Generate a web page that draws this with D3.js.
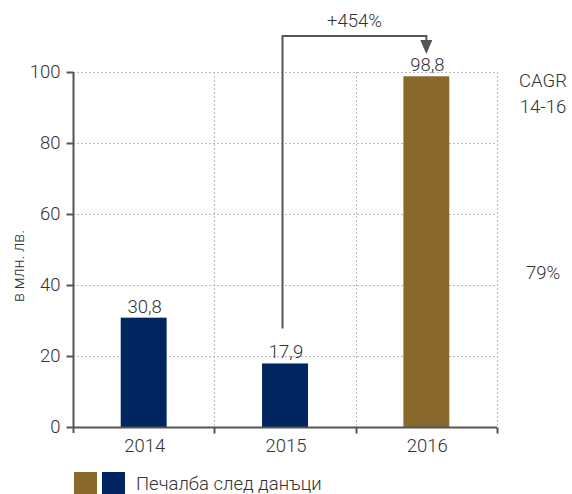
<!DOCTYPE html>
<html lang="bg">
<head>
<meta charset="utf-8">
<script src="https://cdn.jsdelivr.net/npm/d3@7"></script>
<style>
html,body{margin:0;padding:0;background:#fff;}
text{font-family:"Roboto","Liberation Sans",sans-serif;font-weight:300;fill:#333;}
</style>
</head>
<body>
<svg id="chart" width="572" height="494"></svg>
<script>
const categories = ["2014","2015","2016"];
const values = [30.8, 17.9, 98.8];
const valueLabels = ["30,8","17,9","98,8"];
const barColors = ["#002561","#002561","#8a6a2c"];
const yTicks = [0,20,40,60,80,100];
const legendColors = ["#8a6a2c","#002561"];
const legendLabel = "Печалба след данъци";
const yTitle = "в млн. лв.";
const growthLabel = "+454%";
const cagrLines = ["CAGR","14-16"];
const cagrValue = "79%";

const svg = d3.select("#chart");
const m = {left:73, right:497, top:72, bottom:427};
const x = d3.scaleBand().domain(categories).range([m.left,m.right]).paddingInner(0).paddingOuter(0);
const y = d3.scaleLinear().domain([0,100]).range([m.bottom,m.top]);
const axisColor = "#555";
const gridColor = "#bbb";
const fs = 18.5;

// horizontal grid
svg.append("g").selectAll("line").data(yTicks.filter(d=>d>0)).join("line")
  .attr("x1",m.left).attr("x2",m.right).attr("y1",d=>y(d)+0.5).attr("y2",d=>y(d)+0.5)
  .attr("stroke",gridColor).attr("stroke-dasharray","2,2");
// vertical grid at band boundaries
const bounds = categories.slice(1).map(c=>x(c)).concat([m.right]);
svg.append("g").selectAll("line").data(bounds).join("line")
  .attr("x1",d=>Math.round(d)+0.5).attr("x2",d=>Math.round(d)+0.5).attr("y1",m.top).attr("y2",m.bottom)
  .attr("stroke",gridColor).attr("stroke-dasharray","2,2");

// bars
const bw = x.bandwidth()*0.325;
svg.append("g").selectAll("rect").data(values).join("rect")
  .attr("x",(d,i)=>x(categories[i])+x.bandwidth()/2-bw/2)
  .attr("width",bw)
  .attr("y",d=>y(d)).attr("height",d=>y(0)-y(d))
  .attr("fill",(d,i)=>barColors[i]);

// value labels
svg.append("g").selectAll("text").data(values).join("text")
  .attr("x",(d,i)=>x(categories[i])+x.bandwidth()/2+1)
  .attr("y",d=>y(d)-5)
  .attr("text-anchor","middle").attr("font-size",fs)
  .text((d,i)=>valueLabels[i]);

// y axis
const yAxis = d3.axisLeft(y).tickValues(yTicks).tickSize(7).tickPadding(6).tickSizeOuter(0);
const gy = svg.append("g").attr("transform",`translate(${m.left+0.5},0)`).call(yAxis);
gy.select(".domain").remove();
gy.append("line").attr("x1",0).attr("x2",0).attr("y1",m.top).attr("y2",m.bottom+6).attr("stroke",axisColor).attr("stroke-width",2);
gy.selectAll(".tick line").attr("stroke",axisColor).attr("stroke-width",2);
gy.selectAll(".tick text").attr("font-size",fs).attr("fill","#333").attr("font-family","Roboto,sans-serif").attr("font-weight",300);

// x axis
const gx = svg.append("g").attr("transform",`translate(0,${m.bottom+0.5})`);
gx.append("line").attr("x1",m.left).attr("x2",m.right).attr("stroke",axisColor).attr("stroke-width",2);
gx.selectAll("line.t").data(bounds).join("line").attr("class","t")
  .attr("x1",d=>Math.round(d)+0.5).attr("x2",d=>Math.round(d)+0.5).attr("y1",0).attr("y2",6)
  .attr("stroke",axisColor).attr("stroke-width",2);
gx.selectAll("text").data(categories).join("text")
  .attr("x",d=>x(d)+x.bandwidth()/2+1).attr("y",24)
  .attr("text-anchor","middle").attr("font-size",fs).text(d=>d);

// y title
svg.append("text")
  .attr("transform","translate(24,266) rotate(-90)")
  .attr("text-anchor","middle").attr("font-size",16).text(yTitle);

// growth arrow
const ax1 = x("2015")+x.bandwidth()/2-2.5;
const ax2 = x("2016")+x.bandwidth()/2;
const yTopLine = 36;
const tipY = y(100) - 18;
svg.append("path")
  .attr("d",`M${ax1},${y(values[1])-35}V${yTopLine}H${ax2}V${tipY-12}`)
  .attr("fill","none").attr("stroke",axisColor).attr("stroke-width",2);
svg.append("path")
  .attr("d",`M${ax2-6},${tipY-14}L${ax2+6},${tipY-14}L${ax2},${tipY}Z`)
  .attr("fill",axisColor);
svg.append("text").attr("x",(ax1+ax2)/2).attr("y",27).attr("text-anchor","middle").attr("font-size",fs).text(growthLabel);

// CAGR
svg.append("g").selectAll("text").data(cagrLines).join("text")
  .attr("x",543).attr("y",(d,i)=>87+i*26).attr("text-anchor","middle").attr("font-size",fs).text(d=>d);
svg.append("text").attr("x",543).attr("y",279).attr("text-anchor","middle").attr("font-size",fs).text(cagrValue);

// legend
svg.append("g").selectAll("rect").data(legendColors).join("rect")
  .attr("x",(d,i)=>74+i*28).attr("y",472).attr("width",23).attr("height",22).attr("fill",d=>d);
svg.append("text").attr("x",136).attr("y",490).attr("font-size",fs).text(legendLabel);
</script>
</body>
</html>
